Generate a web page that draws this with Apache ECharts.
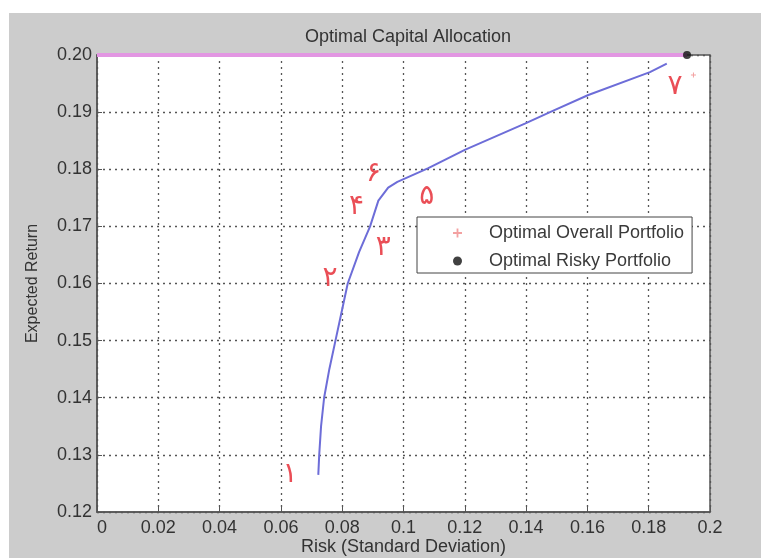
<!DOCTYPE html>
<html>
<head>
<meta charset="utf-8">
<script src="https://cdn.jsdelivr.net/npm/echarts@6/dist/echarts.min.js"></script>
<style>
  html, body { margin: 0; padding: 0; background: #ffffff; width: 761px; height: 558px; overflow: hidden; }
  #main { position: absolute; left: 9px; top: 13px; width: 752px; height: 545px; }
</style>
</head>
<body>
<div id="main"></div>
<script>
// ---- data ----
const xTickLabels = ['0','0.02','0.04','0.06','0.08','0.1','0.12','0.14','0.16','0.18','0.2'];
const yTickLabels = ['0.12','0.13','0.14','0.15','0.16','0.17','0.18','0.19','0.20'];

const frontierRisk   = [0.0722,0.0725,0.0731,0.0741,0.0758,0.0778,0.0800,0.0818,0.0855,0.0891,0.0918,0.0950,0.0980,0.1081,0.1200,0.1396,0.1478,0.1603,0.1804,0.1859];
const frontierReturn = [0.1265,0.1300,0.1350,0.1400,0.1450,0.1500,0.1555,0.1600,0.1655,0.1700,0.1745,0.1768,0.1778,0.1802,0.1834,0.1880,0.1900,0.1930,0.1970,0.1985];

const calRisk   = [0, 0.1925];
const calReturn = [0.20, 0.20];

const riskyRisk   = [0.1925];
const riskyReturn = [0.20];

const overallRisk   = [0.1946];
const overallReturn = [0.1965];

const noteLabels = ['۱','۲','۳','۴','۵','۶','۷'];
const noteRisk   = [0.0630,0.0760,0.0934,0.0847,0.1076,0.0902,0.1886];
const noteReturn = [0.1265,0.1609,0.1662,0.1734,0.1752,0.1793,0.1945];

// ---- build ----
const zip = (a, b) => a.map((v, i) => [v, b[i]]);
const plusPath = 'path://M4,0L6,0L6,4L10,4L10,6L6,6L6,10L4,10L4,6L0,6L0,4L4,4Z';
const FONT = 'Liberation Sans';

const chart = echarts.init(document.getElementById('main'), null, { renderer: 'canvas' });
chart.setOption({
  animation: false,
  backgroundColor: '#cccccc',
  title: {
    text: 'Optimal Capital Allocation',
    left: 394, top: 10, textAlign: 'center',
    textStyle: { fontFamily: FONT, fontSize: 18, fontWeight: 'normal', color: '#333' }
  },
  legend: {
    orient: 'vertical', left: 408, top: 204,
    padding: [7, 8, 3, 36],
    itemWidth: 9, itemHeight: 9, itemGap: 10,
    backgroundColor: '#ffffff', borderColor: '#444', borderWidth: 1, borderRadius: 0,
    textStyle: { fontFamily: FONT, fontSize: 18, color: '#3a3a3a', padding: [0, 0, 0, 22], lineHeight: 16 },
    data: [
      { name: 'Optimal Overall Portfolio', icon: plusPath, itemStyle: { color: '#f08a8a' } },
      { name: 'Optimal Risky Portfolio', icon: 'circle', itemStyle: { color: '#111' } }
    ]
  },
  grid: {
    left: 88, top: 42, width: 613, height: 457,
    outerBoundsMode: 'none', containLabel: false,
    show: true, backgroundColor: '#ffffff', borderColor: '#555', borderWidth: 1.5
  },
  xAxis: {
    type: 'value', min: 0, max: 0.2, interval: 0.02,
    name: 'Risk (Standard Deviation)', nameLocation: 'middle', nameGap: 26, nameMoveOverlap: false,
    nameTextStyle: { fontFamily: FONT, fontSize: 18, color: '#333' },
    axisLine: { show: true, lineStyle: { color: '#555', width: 1.5 } },
    axisTick: { show: true, inside: true, length: 5, lineStyle: { color: '#555' } },
    axisLabel: {
      fontFamily: FONT, fontSize: 18, color: '#333', margin: 7, alignMinLabel: 'left',
      formatter: v => xTickLabels[Math.round(v / 0.02)]
    },
    splitLine: { show: true, lineStyle: { type: [2, 4], color: '#555', width: 1.3 } }
  },
  yAxis: {
    type: 'value', min: 0.12, max: 0.20, interval: 0.01,
    name: 'Expected Return', nameLocation: 'middle', nameGap: 56, nameMoveOverlap: false,
    nameTextStyle: { fontFamily: FONT, fontSize: 16, color: '#333' },
    axisLine: { show: true, lineStyle: { color: '#555', width: 1.5 } },
    axisTick: { show: true, inside: true, length: 5, lineStyle: { color: '#555' } },
    axisLabel: {
      fontFamily: FONT, fontSize: 18, color: '#333', margin: 5,
      formatter: v => yTickLabels[Math.round((v - 0.12) / 0.01)]
    },
    splitLine: { show: true, lineStyle: { type: [2, 4], color: '#555', width: 1.3 } }
  },
  series: [
    {
      name: 'Capital Allocation Line', type: 'line', data: zip(calRisk, calReturn),
      symbol: 'none', clip: false,
      lineStyle: { color: '#e296e2', width: 4 }, z: 3
    },
    {
      name: 'Efficient Frontier', type: 'line', data: zip(frontierRisk, frontierReturn),
      symbol: 'none', smooth: false,
      lineStyle: { color: '#6d6dd8', width: 2 }, z: 4
    },
    {
      name: 'Optimal Overall Portfolio', type: 'scatter', data: zip(overallRisk, overallReturn),
      symbol: plusPath, symbolSize: 5, clip: false,
      itemStyle: { color: '#f08a8a' }, z: 5
    },
    {
      name: 'Optimal Risky Portfolio', type: 'scatter', data: zip(riskyRisk, riskyReturn),
      symbol: 'circle', symbolSize: 8, clip: false,
      itemStyle: { color: '#111' }, z: 6
    },
    {
      name: 'notes', type: 'scatter', data: zip(noteRisk, noteReturn),
      symbolSize: 1, itemStyle: { color: 'rgba(0,0,0,0)' }, z: 7,
      label: {
        show: true, position: 'inside',
        formatter: p => noteLabels[p.dataIndex],
        fontFamily: 'DejaVu Sans', fontSize: 28, color: '#e5222c'
      }
    }
  ]
});
</script>
</body>
</html>
